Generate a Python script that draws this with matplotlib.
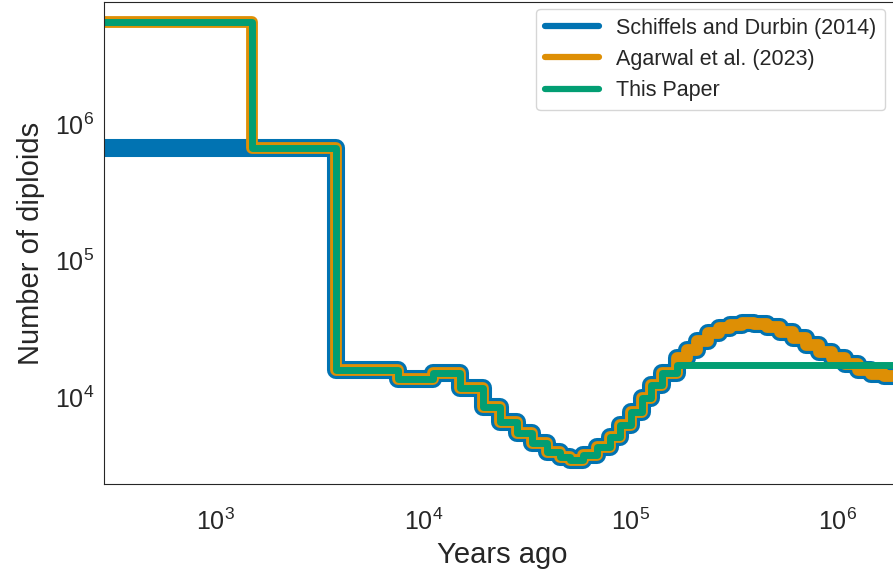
import numpy as np
import matplotlib
matplotlib.use("Agg")
import matplotlib.pyplot as plt
import seaborn as sns

sns.set_style("white")
plt.rcParams["font.family"] = ["Liberation Sans", "DejaVu Sans"]
plt.rcParams["mathtext.fontset"] = "custom"
plt.rcParams["mathtext.rm"] = "Liberation Sans"
plt.rcParams["mathtext.it"] = "Liberation Sans:italic"
plt.rcParams["mathtext.bf"] = "Liberation Sans:bold"

# step start times (years ago) shared by all three curves after the recent epochs
t_comun = [3790, 7537, 11110, 14995, 19350, 23370, 28220, 33340, 39380, 45490,
           50820, 58700, 68580, 79200, 88500, 101100, 113000, 126200, 142600]
n_comun = [15770, 13550, 14990, 11640, 8450, 6560, 5450, 4600, 3956, 3635,
           3455, 3760, 4302, 5093, 6235, 7766, 9833, 12240, 14990]

# older part of the curve (Schiffels and Durbin / Agarwal et al.)
t_viejo = [166700, 188200, 210300, 237700, 268600, 303400, 346600, 395900,
           457300, 528400, 610200, 705000, 814400, 940800, 1087000, 1256000,
           1450000, 1675000, 3000000]
n_viejo = [19310, 22100, 25720, 29440, 32030, 33690, 34840, 34260, 32570,
           29940, 27050, 24040, 21370, 19310, 17450, 15770, 14740, 14250, 14250]

# this paper: flat after ~1.7e5 years
t_nuevo = [166700, 3000000]
n_nuevo = [17150, 17150]

t_inicio = 100
t_reciente = 1500
n_agarwal_reciente = 5.59e6
n_reciente = 6.67e5

t_sd = [t_inicio] + t_comun + t_viejo
n_sd = [n_reciente] + n_comun + n_viejo
t_ag = [t_inicio, t_reciente] + t_comun + t_viejo
n_ag = [n_agarwal_reciente, n_reciente] + n_comun + n_viejo
t_tp = [t_inicio, t_reciente] + t_comun + t_nuevo
n_tp = [n_agarwal_reciente, n_reciente] + n_comun + n_nuevo

colores = sns.color_palette("colorblind")

fig = plt.figure(figsize=(8.93, 5.77), dpi=100)
ax = fig.add_axes([104 / 893, 93 / 577, 796 / 893, 482 / 577])

kw = dict(drawstyle="steps-post", solid_joinstyle="round", solid_capstyle="round")
ax.plot(t_sd, n_sd, color=colores[0], lw=13, label="Schiffels and Durbin (2014)", **kw)
ax.plot(t_ag, n_ag, color=colores[1], lw=8.5, label="Agarwal et al. (2023)", **kw)
ax.plot(t_tp, n_tp, color=colores[2], lw=5, label="This Paper", **kw)

ax.set_xscale("log")
ax.set_yscale("log")
ax.set_xlim(10 ** 2.4602, 10 ** 6.3)
ax.set_ylim(10 ** 3.363, 10 ** 6.894)
ax.set_xticks([1e3, 1e4, 1e5, 1e6])
ax.set_yticks([1e4, 1e5, 1e6])
ax.tick_params(labelsize=18)
ax.tick_params(axis="x", pad=14.5)
ax.set_xlabel("Years ago", fontsize=21)
ax.set_ylabel("Number of diploids", fontsize=21, labelpad=7.5)

leg = ax.legend(loc="upper right", fontsize=15.5, labelspacing=0.48,
                handlelength=2.5, borderaxespad=0,
                bbox_to_anchor=(781 / 796, 475 / 482))
for linea in leg.get_lines():
    linea.set_linewidth(4.5)

fig.savefig("out.png", dpi=100)
